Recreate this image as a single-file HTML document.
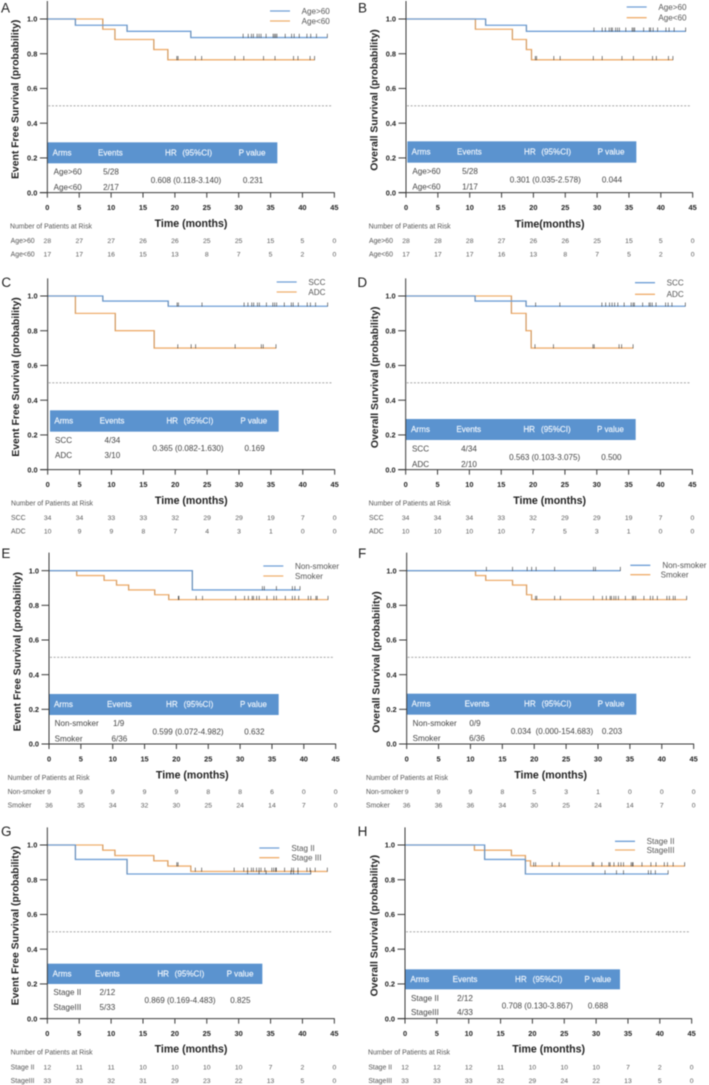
<!DOCTYPE html>
<html lang="en">
<head>
<meta charset="utf-8">
<title>Kaplan-Meier survival curves</title>
<style>
html,body{margin:0;padding:0;background:#fff;}
#figure{display:block;width:709px;height:1085px;filter:blur(0.4px);}
text{font-family:"Liberation Sans",sans-serif;}
</style>
</head>
<body>
<svg id="figure" xmlns="http://www.w3.org/2000/svg" width="709" height="1085" viewBox="0 0 709 1085"></svg>
<script>
const xTickValues = [0,5,10,15,20,25,30,35,40,45];
const yTickValues = [0,0.2,0.4,0.6,0.8,1.0];
const yTickLabels = ['0.0','0.2','0.4','0.6','0.8','1.0'];

const aBlueTimes = [0,4.4,12.5,22.5];
const aBlueSurvival = [1,0.964,0.929,0.893];
const aBlueCensor = [30.7,31.5,32.0,32.3,32.9,33.2,33.5,34.3,35.4,35.6,35.8,36.0,37.3,38.3,38.7,39.5,40.7,41.3,42.2,43.9];
const aOrangeTimes = [0,8.7,10.6,16.7,18.9];
const aOrangeSurvival = [1,0.941,0.882,0.824,0.765];
const aOrangeCensor = [20.3,20.5,23.2,24.2,29.4,30.8,33.9,35.7,38.6,39.3,41.2,41.9];
const aRiskBlue = [28,27,27,26,26,25,25,15,5,0];
const aRiskOrange = [17,17,16,15,13,8,7,5,2,0];

const bBlueTimes = [0,12.5,18.9];
const bBlueSurvival = [1,0.964,0.929];
const bBlueCensor = [29.5,30.8,31.3,31.9,32.2,32.4,32.9,33.2,33.5,34.5,35.5,35.7,35.9,37.3,38.2,38.4,38.8,39.5,40.8,41.3,42.1,43.9];
const bOrangeTimes = [0,10.9,16.7,18.9,19.7];
const bOrangeSurvival = [1,0.941,0.882,0.824,0.765];
const bOrangeCensor = [20.3,20.5,23.2,24.2,29.4,30.8,33.9,35.7,38.7,39.3,41.2,41.9];
const bRiskBlue = [28,28,28,27,26,26,25,15,5,0];
const bRiskOrange = [17,17,17,16,13,8,7,5,2,0];

const cBlueTimes = [0,8.65,18.9];
const cBlueSurvival = [1,0.971,0.941];
const cBlueCensor = [20.3,20.5,24.2,30.8,31.4,32,32.3,32.9,33.2,34.3,35.3,35.6,35.9,37.1,38.2,38.5,39.3,40.7,41.2,42,43.9];
const cOrangeTimes = [0,4.35,10.6,16.7];
const cOrangeSurvival = [1,0.9,0.8,0.7];
const cOrangeCensor = [20.4,22.5,23.2,29.4,33.5,33.8,35.8];
const cRiskBlue = [34,34,33,33,32,29,29,19,7,0];
const cRiskOrange = [10,9,9,8,7,4,3,1,0,0];

const dBlueTimes = [0,10.9,18.9];
const dBlueSurvival = [1,0.971,0.941];
const dBlueCensor = [20.4,24.2,30.8,31.4,32,32.4,32.8,33.3,34.3,35.4,35.7,35.9,37.2,38.2,38.4,38.7,39.3,40.8,41.2,41.8,43.9];
const dOrangeTimes = [0,16.6,18.9,19.7];
const dOrangeSurvival = [1,0.9,0.8,0.7];
const dOrangeCensor = [20.3,23.2,29.4,29.6,33.5,33.9,35.7];
const dRiskBlue = [34,34,34,33,32,29,29,19,7,0];
const dRiskOrange = [10,10,10,10,7,5,3,1,0,0];

const eBlueTimes = [0,22.5];
const eBlueSurvival = [1,0.889];
const eBlueCensor = [33.5,33.8,35.7,38.2,38.6,39.4];
const eOrangeTimes = [0,4.35,8.65,10.6,12.5,16.6,18.8];
const eOrangeSurvival = [1,0.972,0.944,0.917,0.889,0.861,0.833];
const eOrangeCensor = [20.3,20.4,23.1,24.1,29.3,30.7,31.3,31.9,32.1,32.6,33,34.2,35.3,35.7,37.1,38.2,38.6,39.2,40.7,41.1,41.9,42.1,43.8];
const eRiskBlue = [9,9,9,9,9,8,8,6,0,0];
const eRiskOrange = [36,35,34,32,30,25,24,14,7,0];

const fBlueTimes = [0];
const fBlueSurvival = [1];
const fBlueCensor = [12.5,16.6,18.9,19.6,20.3,23.2,29.3,29.6,33.5];
const fOrangeTimes = [0,10.8,12.4,16.6,18.8,19.6];
const fOrangeSurvival = [1,0.972,0.944,0.917,0.861,0.833];
const fOrangeCensor = [20.2,20.4,23.2,24.1,29.3,30.7,31.3,31.9,32.1,32.5,32.8,33.2,34.3,35.4,35.6,35.9,37.2,38.2,38.6,39.3,40.8,41.2,41.8,42.1,43.9];
const fRiskBlue = [9,9,9,8,5,3,1,0,0,0];
const fRiskOrange = [36,36,36,34,30,25,24,14,7,0];

const gBlueTimes = [0,4.4,12.5];
const gBlueSurvival = [1,0.917,0.833];
const gBlueCensor = [31.4,33.2,34.3,38.2,38.6,39.3,41.3];
const gOrangeTimes = [0,8.7,10.6,16.7,18.9,22.5];
const gOrangeSurvival = [1,0.97,0.939,0.909,0.879,0.848];
const gOrangeCensor = [20.3,20.5,23.2,24.2,29.3,30.8,31.4,32,32.3,32.8,33.2,33.5,34.1,35.2,35.5,35.8,35.9,37.2,38.3,38.6,39.3,40.7,41.2,42,43.9];
const gRiskBlue = [12,11,11,10,10,10,10,7,2,0];
const gRiskOrange = [33,33,32,31,29,23,22,13,5,0];

const hBlueTimes = [0,12.5,18.9];
const hBlueSurvival = [1,0.917,0.833];
const hBlueCensor = [31.4,33.2,34.3,38.2,38.6,39.3,41.3];
const hOrangeTimes = [0,10.9,16.7,18.9,19.7];
const hOrangeSurvival = [1,0.97,0.939,0.909,0.879];
const hOrangeCensor = [20.2,20.5,23.1,24.2,29.4,29.6,30.9,32,32.2,32.8,33.5,33.9,34.3,35.5,35.7,35.8,37.2,38.6,39.4,40.7,41.2,42.1,43.9];
const hRiskBlue = [12,12,12,11,10,10,10,7,2,0];
const hRiskOrange = [33,33,33,32,29,24,22,13,5,0];

const BLUE = '#6f9fd6';
const ORANGE = '#efae6e';
const DARK = '#3a3a3a';
const TABLE_BLUE = '#5b93cf';
const TEXT = '#444444';
const svg = document.getElementById('figure');
const NS = 'http://www.w3.org/2000/svg';

function mk(parent, tag, attrs){
  const node = document.createElementNS(NS, tag);
  for (const k in attrs) node.setAttribute(k, attrs[k]);
  parent.appendChild(node);
  return node;
}
function txt(parent, x, y, str, size, fill, weight, anchor){
  const node = mk(parent, 'text', {x:x, y:y, dy:'0.35em', 'font-size':size, fill:fill, 'font-weight':weight || 'normal', 'text-anchor':anchor || 'start'});
  node.textContent = str;
  return node;
}

const panels = [
 {id:'a',letter:'A',ox:0,oy:0,lx:3,ly:24,x0:142,x45:1003,y1:57,y0:578,top:3,
  yTitle:'Event Free Survival (probability)',ytx:45,yty:298,xTitle:'Time (months)',xtx:573,xty:670,
  blue:[aBlueTimes,aBlueSurvival,aBlueCensor],orange:[aOrangeTimes,aOrangeSurvival,aOrangeCensor],
  names:['Age>60','Age<60'],leg:{x1:810,y1:33,y2:63,t1:905,t2:905},
  tb:{l:142,r:832,t:427,b:490,cols:[158,294,495,547,716],lab:161,ev:[333,333],r1:515,r2:562,hrX:558,hrY:540,pX:759},
  hr:'0.608 (0.118-3.140)',p:'0.231',ev:['5/28','2/17'],
  risk:{h:[30,679],lx:32,y1:722,y2:762,a:aRiskBlue,b:aRiskOrange},rowNames:['Age>60','Age<60']},
 {id:'b',letter:'B',ox:355,oy:0,lx:9,ly:24,x0:153,x45:1013,y1:57,y0:578,top:3,
  yTitle:'Overall Survival (probability)',ytx:56,yty:300,xTitle:'Time(months)',xtx:584,xty:671,
  blue:[bBlueTimes,bBlueSurvival,bBlueCensor],orange:[bOrangeTimes,bOrangeSurvival,bOrangeCensor],
  names:['Age>60','Age<60'],leg:{x1:815,y1:21,y2:53,t1:910,t2:910},
  tb:{l:157,r:844,t:424,b:488,cols:[170,306,507,559,728],lab:172,ev:[345,345],r1:513,r2:560,hrX:571,hrY:539,pX:771},
  hr:'0.301 (0.035-2.578)',p:'0.044',ev:['5/28','1/17'],
  risk:{h:[41,679],lx:42,y1:722,y2:762,a:bRiskBlue,b:bRiskOrange},rowNames:['Age>60','Age<60']},
 {id:'c',letter:'C',ox:0,oy:270,lx:4,ly:37,x0:143,x45:1004,y1:78,y0:599,top:25,
  yTitle:'Event Free Survival (probability)',ytx:46,yty:321,xTitle:'Time (months)',xtx:574,xty:691,
  blue:[cBlueTimes,cBlueSurvival,cBlueCensor],orange:[cOrangeTimes,cOrangeSurvival,cOrangeCensor],
  names:['SCC','ADC'],leg:{x1:830,y1:36,y2:66,t1:925,t2:925},
  tb:{l:150,r:836,t:421,b:485,cols:[163,299,499,551,721],lab:165,ev:[337,337],r1:510,r2:556,hrX:564,hrY:535,pX:764},
  hr:'0.365 (0.082-1.630)',p:'0.169',ev:['4/34','3/10'],
  risk:{h:[33,700],lx:33,y1:743,y2:783,a:cRiskBlue,b:cRiskOrange},rowNames:['SCC','ADC']},
 {id:'d',letter:'D',ox:355,oy:270,lx:7,ly:37,x0:152,x45:1012,y1:78,y0:599,top:25,
  yTitle:'Overall Survival (probability)',ytx:58,yty:322,xTitle:'Time (months)',xtx:584,xty:691,
  blue:[dBlueTimes,dBlueSurvival,dBlueCensor],orange:[dOrangeTimes,dOrangeSurvival,dOrangeCensor],
  names:['SCC','ADC'],leg:{x1:840,y1:38,y2:73,t1:935,t2:935},
  tb:{l:152,r:842,t:447,b:510,cols:[168,304,505,558,726],lab:171,ev:[342,342],r1:536,r2:583,hrX:569,hrY:561,pX:769},
  hr:'0.563 (0.103-3.075)',p:'0.500',ev:['4/34','2/10'],
  risk:{h:[41,700],lx:42,y1:743,y2:783,a:dRiskBlue,b:dRiskOrange},rowNames:['SCC','ADC']},
 {id:'e',letter:'E',ox:0,oy:540,lx:4,ly:40,x0:147,x45:1007,y1:92,y0:612,top:38,
  yTitle:'Event Free Survival (probability)',ytx:50,yty:335,xTitle:'Time (months)',xtx:577,xty:704,
  blue:[eBlueTimes,eBlueSurvival,eBlueCensor],orange:[eOrangeTimes,eOrangeSurvival,eOrangeCensor],
  names:['Non-smoker','Smoker'],leg:{x1:790,y1:78,y2:108,t1:885,t2:885},
  tb:{l:147,r:836,t:462,b:525,cols:[162,321,498,551,720],lab:164,ev:[356,358],r1:550,r2:596,hrX:564,hrY:575,pX:763},
  hr:'0.599 (0.072-4.982)',p:'0.632',ev:['1/9','6/36'],
  risk:{h:[23,713],lx:23,y1:755,y2:795,a:eRiskBlue,b:eRiskOrange},rowNames:['Non-smoker','Smoker']},
 {id:'f',letter:'F',ox:355,oy:540,lx:9,ly:40,x0:155,x45:1016,y1:92,y0:612,top:38,
  yTitle:'Overall Survival (probability)',ytx:62,yty:366,xTitle:'Time (months)',xtx:587,xty:704,
  blue:[fBlueTimes,fBlueSurvival,fBlueCensor],orange:[fOrangeTimes,fOrangeSurvival,fOrangeCensor],
  names:['Non-smoker','Smoker'],leg:{x1:826,y1:76,y2:104,t1:922,t2:917},
  tb:{l:155,r:844,t:461,b:524,cols:[170,329,507,560,728],lab:173,ev:[360,366],r1:549,r2:595,hrX:591,hrY:574,pX:771},
  hr:'0.034  (0.000-154.683)',p:'0.203',ev:['0/9','6/36'],
  risk:{h:[33,713],lx:33,y1:755,y2:795,a:fRiskBlue,b:fRiskOrange},rowNames:['Non-smoker','Smoker']},
 {id:'g',letter:'G',ox:0,oy:810,lx:3,ly:64,x0:142,x45:1003,y1:105,y0:626,top:52,
  yTitle:'Event Free Survival (probability)',ytx:45,yty:347,xTitle:'Time (months)',xtx:573,xty:717,
  blue:[gBlueTimes,gBlueSurvival,gBlueCensor],orange:[gOrangeTimes,gOrangeSurvival,gOrangeCensor],
  names:['Stag II','Stage III'],leg:{x1:778,y1:114,y2:143,t1:874,t2:874},
  tb:{l:142,r:787,t:461,b:522,cols:[158,285,472,524,680],lab:160,ev:[322,322],r1:547,r2:591,hrX:540,hrY:570,pX:721},
  hr:'0.869 (0.169-4.483)',p:'0.825',ev:['2/12','5/33'],
  risk:{h:[32,727],lx:32,y1:771,y2:812,a:gRiskBlue,b:gRiskOrange},rowNames:['Stage II','StageIII'],tbNames:['Stage II','StageIII']},
 {id:'h',letter:'H',ox:355,oy:810,lx:8,ly:64,x0:150,x45:1010,y1:105,y0:626,top:52,
  yTitle:'Overall Survival (probability)',ytx:57,yty:347,xTitle:'Time (months)',xtx:581,xty:717,
  blue:[hBlueTimes,hBlueSurvival,hBlueCensor],orange:[hOrangeTimes,hOrangeSurvival,hOrangeCensor],
  names:['Stage II','StageIII'],leg:{x1:780,y1:94,y2:120,t1:875,t2:875},
  tb:{l:150,r:795,t:478,b:538,cols:[166,293,480,533,688],lab:168,ev:[330,330],r1:564,r2:607,hrX:547,hrY:587,pX:729},
  hr:'0.708 (0.130-3.867)',p:'0.688',ev:['2/12','4/33'],
  risk:{h:[39,727],lx:40,y1:771,y2:812,a:hRiskBlue,b:hRiskOrange},rowNames:['Stage II','StageIII'],tbNames:['Stage II','StageIII']}
];

function drawCurve(g, series, color, xScale, yScale, label){
  const times = series[0], surv = series[1], cens = series[2];
  const end = cens[cens.length - 1];
  let d = 'M' + xScale(times[0]) + ' ' + yScale(surv[0]);
  for (let i = 1; i < times.length; i++){
    d += 'H' + xScale(times[i]) + 'V' + yScale(surv[i]);
  }
  d += 'H' + xScale(end);
  const path = mk(g, 'path', {d:d, fill:'none', stroke:color, 'stroke-width':1.35});
  
  
  for (let i = 1; i < times.length; i++){
    const drop = mk(g, 'line', {x1:xScale(times[i]), x2:xScale(times[i]), y1:yScale(surv[i-1]), y2:yScale(surv[i]), stroke:'#6b6255', 'stroke-width':0.4, 'stroke-opacity':0.6});
    
    
  }
  cens.forEach(function(t){
    let s = surv[0];
    for (let i = 0; i < times.length; i++){ if (times[i] <= t) s = surv[i]; }
    const tick = mk(g, 'line', {x1:xScale(t), x2:xScale(t), y1:yScale(s) - 3.8, y2:yScale(s) + 0.3, stroke:'#333333', 'stroke-width':0.6});
    
    
  });
}

panels.forEach(function(p){
  const zx = function(v){ return p.ox + v / 3; };
  const zy = function(v){ return p.oy + v / 3; };
  const xScale = function(t){ return zx(p.x0 + (p.x45 - p.x0) * t / 45); };
  const yScale = function(s){ return zy(p.y0 + (p.y1 - p.y0) * s); };

  const g = mk(svg, 'g', {});
  
  

  const letter = txt(g, zx(p.lx), zy(p.ly), p.letter, 13.5, '#222');
  
  

  const ref = mk(g, 'line', {x1:zx(p.x0 + 3), x2:zx(p.x45 - 5), y1:yScale(0.5), y2:yScale(0.5), stroke:'#999999', 'stroke-width':0.9, 'stroke-dasharray':'2 1.6'});
  
  

  drawCurve(g, p.orange, ORANGE, xScale, yScale, 'series-2');
  drawCurve(g, p.blue, BLUE, xScale, yScale, 'series-1');

  const band = mk(g, 'rect', {x:zx(p.tb.l), y:zy(p.tb.t), width:(p.tb.r - p.tb.l) / 3, height:(p.tb.b - p.tb.t) / 3, fill:TABLE_BLUE});
  
  

  const yAxis = mk(g, 'line', {x1:zx(p.x0), x2:zx(p.x0), y1:zy(p.top), y2:zy(p.y0), stroke:DARK, 'stroke-width':1});
  
  
  const xAxis = mk(g, 'line', {x1:zx(p.x0) - 7.5, x2:xScale(45) + 0.4, y1:zy(p.y0), y2:zy(p.y0), stroke:DARK, 'stroke-width':1});
  
  

  xTickValues.forEach(function(v, i){
    const tk = mk(g, 'line', {x1:xScale(v), x2:xScale(v), y1:zy(p.y0), y2:zy(p.y0) + 5, stroke:DARK, 'stroke-width':1});
    
    
    const lb = txt(g, xScale(v), zy(p.y0) + 14.7, String(v), 7.4, '#222', 'bold', 'middle');
    
    
    const r1 = txt(g, xScale(v), zy(p.risk.y1), String(p.risk.a[i]), 6.8, '#5a5a5a', 'normal', 'middle');
    
    
    const r2 = txt(g, xScale(v), zy(p.risk.y2), String(p.risk.b[i]), 6.8, '#5a5a5a', 'normal', 'middle');
    
    
  });
  yTickValues.forEach(function(v, i){
    const tk = mk(g, 'line', {x1:zx(p.x0) - 7.5, x2:zx(p.x0), y1:yScale(v), y2:yScale(v), stroke:DARK, 'stroke-width':1});
    
    
    const lb = txt(g, zx(p.x0) - 10, yScale(v), yTickLabels[i], 7.4, '#222', 'bold', 'end');
    
    
  });

  const xt = txt(g, zx(p.xtx), zy(p.xty), p.xTitle, 10.6, '#222', 'bold', 'middle');
  
  
  const yt = txt(g, 0, 0, p.yTitle, 10.4, '#222', 'bold', 'middle');
  yt.setAttribute('transform', 'translate(' + zx(p.ytx) + ' ' + zy(p.yty) + ') rotate(-90)');
  
  

  [[p.leg.y1, BLUE, p.leg.t1, p.names[0]], [p.leg.y2, ORANGE, p.leg.t2, p.names[1]]].forEach(function(e){
    const ln = mk(g, 'line', {x1:zx(p.leg.x1), x2:zx(p.leg.x1 + 60), y1:zy(e[0]), y2:zy(e[0]), stroke:e[1], 'stroke-width':1.3});
    
    
    const lt = txt(g, zx(e[2]), zy(e[0]), e[3], 8.1, '#555');
    
    
  });

  const headY = (p.tb.t + p.tb.b) / 2 - 1;
  ['Arms','Events','HR','(95%CI)','P value'].forEach(function(h, i){
    const ht = txt(g, zx(p.tb.cols[i]), zy(headY), h, 8.1, '#f2f7fd', 'normal');
    ht.setAttribute('stroke', '#f2f7fd');
    ht.setAttribute('stroke-width', '0.15');
    
    
  });
  const tbLabels = p.tbNames || p.names;
  const a1 = txt(g, zx(p.tb.lab), zy(p.tb.r1), tbLabels[0], 8.1, TEXT);
  
  
  const a2 = txt(g, zx(p.tb.lab), zy(p.tb.r2), tbLabels[1], 8.1, TEXT);
  
  
  const e1 = txt(g, zx(p.tb.ev[0]), zy(p.tb.r1), p.ev[0], 8.1, TEXT, 'normal', 'middle');
  
  
  const e2 = txt(g, zx(p.tb.ev[1]), zy(p.tb.r2), p.ev[1], 8.1, TEXT, 'normal', 'middle');
  
  
  const hr = txt(g, zx(p.tb.hrX), zy(p.tb.hrY), p.hr, 8.1, TEXT, 'normal', 'middle');
  hr.setAttribute('style', 'white-space:pre');
  
  
  const pv = txt(g, zx(p.tb.pX), zy(p.tb.hrY), p.p, 8.1, TEXT, 'normal', 'middle');
  
  

  const rh = txt(g, zx(p.risk.h[0]), zy(p.risk.h[1]), 'Number of Patients at Risk', 6.9, '#555');
  
  
  const rl1 = txt(g, zx(p.risk.lx), zy(p.risk.y1), p.rowNames[0], 6.9, '#555');
  
  
  const rl2 = txt(g, zx(p.risk.lx), zy(p.risk.y2), p.rowNames[1], 6.9, '#555');
  
  
});
</script>
</body>
</html>
